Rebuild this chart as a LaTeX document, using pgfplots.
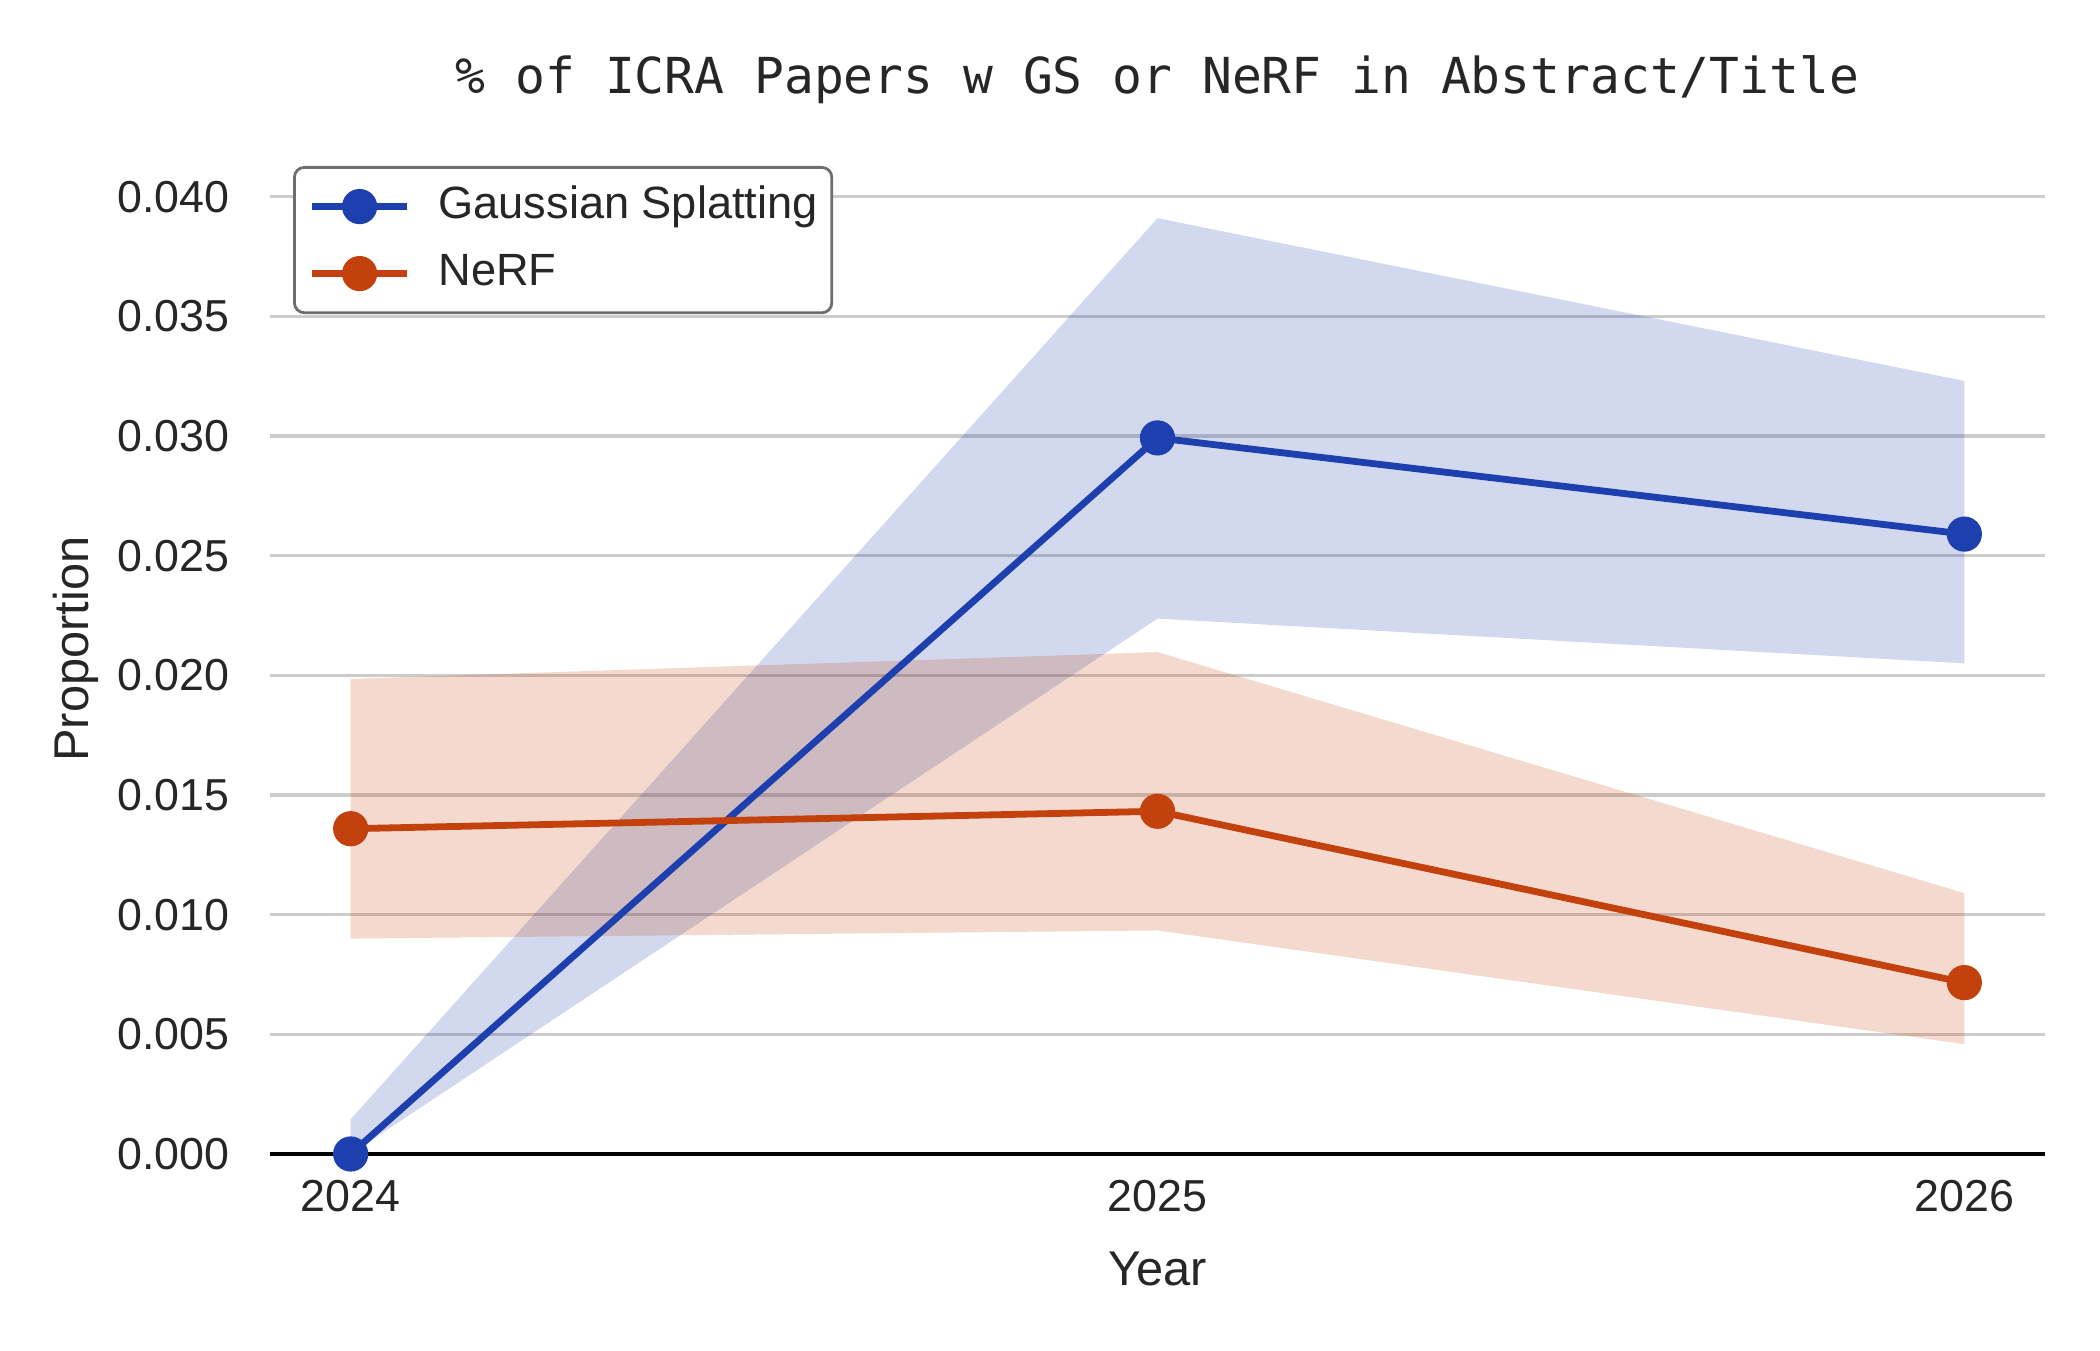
\documentclass[border=0pt]{standalone}
\usepackage{fontspec}
\setmainfont{Liberation Sans}
\newfontfamily\titlefont{DejaVu Sans Mono}
\usepackage{pgfplots}
\pgfplotsset{compat=1.18}
\usepgfplotslibrary{fillbetween}
\definecolor{gsblue}{HTML}{1E40AF}
\definecolor{nerforange}{HTML}{C2410C}
\definecolor{txt}{HTML}{262626}
\definecolor{gridc}{HTML}{CCCCCC}
\definecolor{legframe}{HTML}{6E6E6E}
\begin{document}
\begin{tikzpicture}
\begin{axis}[
  at={(67.5pt,49pt)}, anchor=south west,
  scale only axis, width=443.75pt, height=252.5pt,
  xmin=2023.9, xmax=2026.1, ymin=0, ymax=0.0422,
  clip=false,
  axis line style={draw=none},
  tick style={draw=none},
  xtick={2024,2025,2026}, xticklabels={2024,2025,2026},
  ytick={0,0.005,0.010,0.015,0.020,0.025,0.030,0.035,0.040},
  scaled y ticks=false,
  yticklabel={\pgfmathprintnumber[fixed,fixed zerofill,precision=3,assume math mode=true]{\tick}},
  yticklabel style={anchor=east, inner sep=0pt, xshift=-10pt, font=\fontsize{11.2}{13}\selectfont, text=txt},
  xticklabel style={anchor=center, inner sep=0pt, yshift=-10.5pt, font=\fontsize{11.2}{13}\selectfont, text=txt},
  ymajorgrids, major grid style={gridc, line width=0.8pt},
  xlabel={Year}, ylabel={Proportion},
  xlabel style={at={(axis description cs:0.5,0)}, anchor=center, yshift=-28.75pt, font=\fontsize{12.2}{14}\selectfont, text=txt},
  ylabel style={at={(axis description cs:0,0.5)}, anchor=center, rotate=0, yshift=48.5pt, font=\fontsize{12.2}{14}\selectfont, text=txt},
  title={\% of ICRA Papers w GS or NeRF in Abstract/Title},
  title style={at={(axis description cs:0.5,1)}, anchor=center, yshift=10pt, font=\titlefont\fontsize{12.4}{14}\selectfont, text=txt},
  legend cell align=left,
  legend image code/.code={\draw[mark repeat=2,mark phase=2] plot coordinates {(0cm,0cm) (0.42cm,0cm) (0.84cm,0cm)};},
  legend style={at={(rel axis cs:0,1)}, anchor=north west, xshift=5.75pt, yshift=-5.5pt,
    draw=legframe, line width=0.7pt, rounded corners=2.5pt,
    inner xsep=3.5pt, inner ysep=4.5pt, row sep=6.15pt, column sep=6.9pt,
    font=\fontsize{11.3}{13}\selectfont, text=txt,
    nodes={inner sep=0pt, text height=8.2pt, text depth=2.4pt}},
]
% Gaussian Splatting band
\addplot[draw=none, name path=gsU, forget plot] coordinates {(2024,0.00145) (2025,0.0391) (2026,0.0323)};
\addplot[draw=none, name path=gsL, forget plot] coordinates {(2024,0.0000) (2025,0.02237) (2026,0.0205)};
\addplot[fill=gsblue, fill opacity=0.2, draw=none, forget plot] fill between[of=gsU and gsL];
% NeRF band
\addplot[draw=none, name path=nfU, forget plot] coordinates {(2024,0.01985) (2025,0.02097) (2026,0.0109)};
\addplot[draw=none, name path=nfL, forget plot] coordinates {(2024,0.0090) (2025,0.00934) (2026,0.00459)};
\addplot[fill=nerforange, fill opacity=0.2, draw=none, forget plot] fill between[of=nfU and nfL];
\draw[black, line width=0.9pt] (rel axis cs:0,0) -- (rel axis cs:1,0);
% lines
\addplot[gsblue, line width=1.7pt, mark=*, mark size=3.9pt, mark options={solid, fill=gsblue, line width=1pt}] coordinates {(2024,0.0000) (2025,0.02992) (2026,0.0259)};
\addlegendentry{Gaussian Splatting}
\addplot[nerforange, line width=1.7pt, mark=*, mark size=3.9pt, mark options={solid, fill=nerforange, line width=1pt}] coordinates {(2024,0.01359) (2025,0.01432) (2026,0.00716)};
\addlegendentry{NeRF}
\end{axis}
\pgfresetboundingbox
\useasboundingbox (0,0) rectangle (525pt,337.5pt);
\end{tikzpicture}
\end{document}
